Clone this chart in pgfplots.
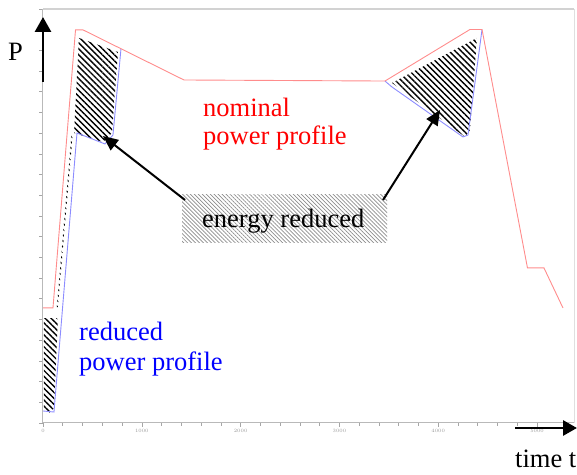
\documentclass[border=0pt]{standalone}
\usepackage{pgfplots}
\pgfplotsset{compat=1.18}
\usepackage{fontspec}
\setmainfont{Liberation Serif}
\usetikzlibrary{arrows.meta,patterns.meta}
\definecolor{lred}{RGB}{255,140,140}
\definecolor{lblue}{RGB}{140,140,255}
\begin{document}
\begin{tikzpicture}[x=1bp,y=1bp]
\useasboundingbox (-43,-52) rectangle (534,423);
\begin{axis}[
  scale only axis, width=531bp, height=414bp,
  xmin=0, xmax=5374, ymin=0, ymax=20,
  axis line style={draw=none},
  xtick={0,1000,...,5000}, minor x tick num=4,
  ytick={0,...,20}, yticklabels={},
  xtick pos=bottom, ytick pos=left,
  tick align=outside, major tick length=4bp, minor tick length=3bp,
  tick style={gray!70, line width=0.6bp},
  xticklabel style={font=\fontsize{5}{6}\selectfont, text=gray!80, yshift=1bp},
  /pgf/number format/set thousands separator={},
  scaled x ticks=false,
  clip=false,
]
% hatched energy areas
\addplot[draw=none, pattern={Lines[angle=-45,distance=4.2bp,line width=1.4bp]}, pattern color=black]
  coordinates {(10,5.07) (10,0.63) (61,0.48) (111,0.72) (150,4.9) (142,5.07)} --cycle;
\addplot[draw=none, pattern={Lines[angle=-45,distance=4.2bp,line width=1.2bp]}, pattern color=black]
  coordinates {(140,5.6) (150,5.6) (300,13.9) (288,13.9)} --cycle;
\addplot[draw=none, pattern={Lines[angle=-45,distance=4.2bp,line width=1.4bp]}, pattern color=black]
  coordinates {(364,18.6) (759,17.92) (698,14.01) (607,13.57) (314,14.01)} --cycle;
\addplot[draw=none, pattern={Lines[angle=-45,distance=4.2bp,line width=1.4bp]}, pattern color=black]
  coordinates {(3532,16.43) (4392,18.6) (4321,14.15) (4271,13.82)} --cycle;
% reduced power profile (where it departs from the nominal one)
\addplot[lblue, line width=0.9bp] coordinates {
  (0,0.58) (111,0.53) (344,14.01) (627,13.48) (708,13.91) (789,18.07)};
\addplot[lblue, line width=0.9bp] coordinates {
  (3461,16.52) (3532,16.23) (4250,13.82) (4301,13.91) (4443,19.01)};
% nominal power profile
\addplot[lred, line width=0.9bp] coordinates {
  (0,5.56) (101,5.56) (329,18.99) (405,18.99) (1427,16.57) (3461,16.52)
  (4321,19.01) (4443,19.01) (4903,7.49) (5070,7.49) (5262,5.56)};
\end{axis}
% frame
\draw[gray!55, line width=1bp] (0,0)--(0,414);
\draw[gray!55, line width=1bp] (0,0)--(531,0);
\draw[gray!35, line width=2bp] (0,414)--(531,414);
\draw[gray!25, line width=0.8bp] (531,0)--(531,414);
% axis arrows and labels
\draw[line width=2.8bp, -{Triangle[length=15bp,width=16bp]}] (0,341)--(0,406);
\draw[line width=2.8bp, -{Triangle[length=14bp,width=15bp]}] (472,-5)--(534,-5);
\node[anchor=base west, inner sep=0pt, font=\fontsize{26.6pt}{30pt}\selectfont] at (-35,362) {P};
\node[anchor=base west, inner sep=0pt, font=\fontsize{26.6pt}{30pt}\selectfont] at (472,-45) {time t};
% texts
\node[anchor=base west, inner sep=0pt, text=red, font=\fontsize{26.6pt}{30pt}\selectfont] at (160,306) {nominal};
\node[anchor=base west, inner sep=0pt, text=red, font=\fontsize{26.6pt}{30pt}\selectfont] at (160,278) {power profile};
\node[anchor=base west, inner sep=0pt, text=blue, font=\fontsize{26.6pt}{30pt}\selectfont] at (36,82) {reduced};
\node[anchor=base west, inner sep=0pt, text=blue, font=\fontsize{26.6pt}{30pt}\selectfont] at (36,52) {power profile};
% energy reduced box
\fill[pattern={Lines[angle=-45,distance=2.8bp,line width=0.7bp]}, pattern color=gray!90] (139,180) rectangle (344,228);
\node[anchor=base west, inner sep=0pt, font=\fontsize{26.6pt}{30pt}\selectfont] at (159,195) {energy reduced};
\draw[line width=2bp, -{Triangle[length=15bp,width=13bp]}] (142,223)--(60,287);
\draw[line width=2bp, -{Triangle[length=15bp,width=13bp]}] (340,223)--(397,313);
\end{tikzpicture}
\end{document}
